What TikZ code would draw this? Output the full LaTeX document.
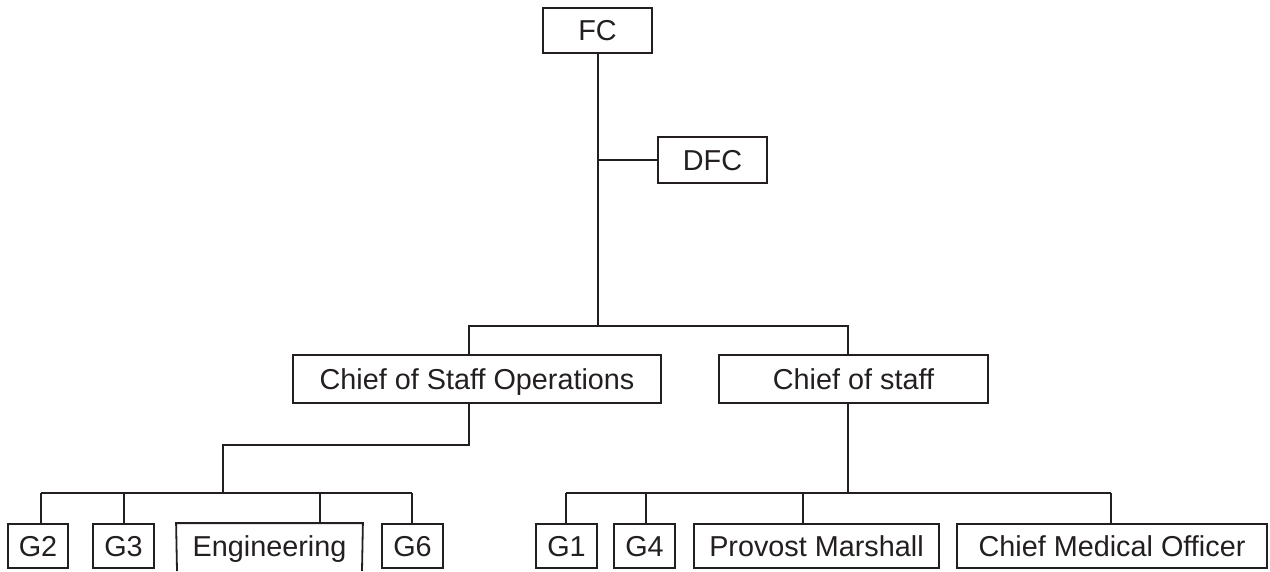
\documentclass[tikz,border=0pt]{standalone}
\usepackage{fontspec}
\setmainfont{Liberation Sans}
\definecolor{ink}{HTML}{231F20}
\begin{document}
\begin{tikzpicture}[x=1pt,y=-1pt,
  conn/.style={draw=ink,line width=1.8pt},
  box/.style={draw=ink,line width=1.8pt,rectangle,inner sep=0pt,
    text height=20.4pt,text depth=0pt,minimum height=45pt,
    font=\fontsize{28.8}{30}\selectfont,text=ink},
  openbox/.style={box,draw=none}]
\useasboundingbox (0,0) rectangle (1270,571);
% nodes
\node[box,minimum width=109pt] (FC) at (597.5,30.5) {FC};
\node[box,minimum width=109pt,minimum height=46pt] (DFC) at (712.5,160) {DFC};
\node[box,minimum width=368pt,minimum height=48pt] (CoSO) at (477,379) {Chief of Staff Operations};
\node[box,minimum width=269pt,minimum height=48pt] (CoS) at (853.5,379) {Chief of staff};
\node[box,minimum width=60pt,minimum height=44pt] (G2) at (38,546) {G2};
\node[box,minimum width=61pt,minimum height=44pt] (G3) at (123.5,546) {G3};
\node[openbox,minimum width=185pt,minimum height=44pt] (Eng) at (269.5,546) {Engineering};
\node[box,minimum width=61pt,minimum height=44pt] (G6) at (412.5,546) {G6};
\node[box,minimum width=61pt,minimum height=44pt] (G1) at (566.5,546) {G1};
\node[box,minimum width=61pt,minimum height=44pt] (G4) at (644.5,546) {G4};
\node[box,minimum width=245pt,minimum height=44pt] (PM) at (816.5,546) {Provost Marshall};
\node[box,minimum width=310pt,minimum height=44pt] (CMO) at (1112,546) {Chief Medical Officer};
% open-bottom Engineering box
\coordinate (EngBL) at (177,571);
\coordinate (EngBR) at (362,571);
\draw[conn] (EngBL) -- (Eng.north west) -- (Eng.north east) -- (EngBR);
% connector points
\coordinate (top) at (598,326);
\coordinate (bl) at (469,326);
\coordinate (br) at (848,326);
\coordinate (s1) at (469,445);
\coordinate (s2) at (223,445);
\coordinate (s3) at (223,493);
\coordinate (r1) at (848,493);
\coordinate (dG2) at (41,493);
\coordinate (dG3) at (124,493);
\coordinate (dEng) at (320,493);
\coordinate (dG6) at (412,493);
\coordinate (dG1) at (566,493);
\coordinate (dG4) at (646,493);
\coordinate (dPM) at (803,493);
\coordinate (dCMO) at (1111,493);
% connectors
\draw[conn] (FC.south -| top) -- (top);
\draw[conn] (DFC.west) -- (DFC.west -| top);
\draw[conn] (CoSO.north -| bl) -- (bl) -- (br) -- (CoS.north -| br);
\draw[conn] (CoSO.south -| s1) -- (s1) -- (s2) -- (s3);
\draw[conn] (dG2) -- (dG6);
\draw[conn] (dG2) -- (G2.north -| dG2);
\draw[conn] (dG3) -- (G3.north -| dG3);
\draw[conn] (dEng) -- (Eng.north -| dEng);
\draw[conn] (dG6) -- (G6.north -| dG6);
\draw[conn] (CoS.south -| r1) -- (r1);
\draw[conn] (dG1) -- (dCMO);
\draw[conn] (dG1) -- (G1.north -| dG1);
\draw[conn] (dG4) -- (G4.north -| dG4);
\draw[conn] (dPM) -- (PM.north -| dPM);
\draw[conn] (dCMO) -- (CMO.north -| dCMO);
\end{tikzpicture}
\end{document}
